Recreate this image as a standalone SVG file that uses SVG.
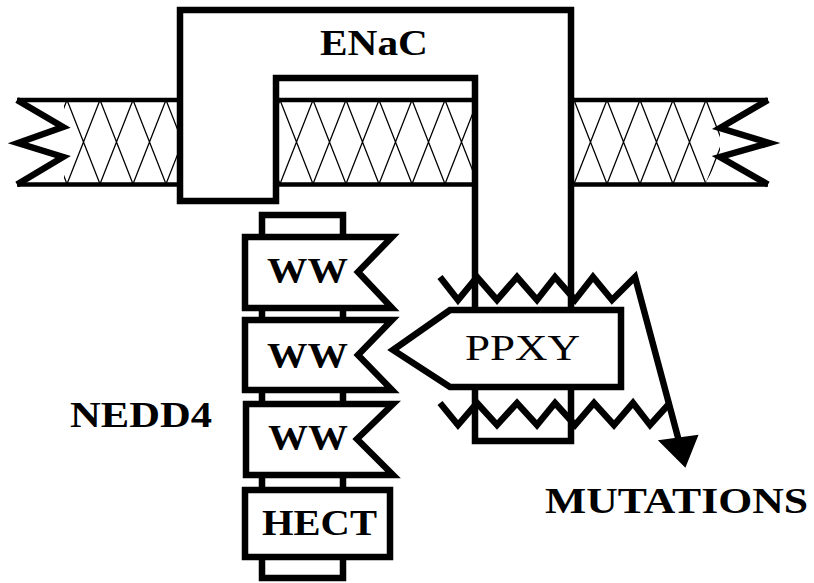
<svg xmlns="http://www.w3.org/2000/svg" width="814" height="583" viewBox="0 0 814 583">
<style>
.ln{fill:none;stroke:#000;stroke-width:4.5}
.zz{fill:none;stroke:#000;stroke-width:6.5;stroke-linejoin:miter;stroke-miterlimit:10}
.box{fill:#fff;stroke:#000;stroke-width:6.5;stroke-linejoin:miter;stroke-miterlimit:10}
.lbl{font-family:"Liberation Serif","Times New Roman",serif;font-weight:bold;font-size:35px;fill:#000}
.reg{font-family:"Liberation Serif","Times New Roman",serif;font-weight:normal;font-size:35px;fill:#000}
</style>
<defs>
<pattern id="hL" patternUnits="userSpaceOnUse" x="67" y="100" width="33" height="84">
<path d="M0,0 L33,84 M33,0 L0,84" stroke="#000" stroke-width="1.3" fill="none"/>
</pattern>
<pattern id="hM" patternUnits="userSpaceOnUse" x="280" y="100" width="33" height="84">
<path d="M0,0 L33,84 M33,0 L0,84" stroke="#000" stroke-width="1.3" fill="none"/>
</pattern>
<pattern id="hR" patternUnits="userSpaceOnUse" x="574" y="100" width="33" height="84">
<path d="M0,0 L33,84 M33,0 L0,84" stroke="#000" stroke-width="1.3" fill="none"/>
</pattern>
</defs>
<rect width="814" height="583" fill="#fff"/>
<g id="membrane">
<rect x="64" y="100" width="116" height="84" fill="url(#hL)"/>
<rect x="276" y="100" width="199" height="84" fill="url(#hM)"/>
<polygon points="571,100 727,100 720,128 720,157 705,184 571,184" fill="url(#hR)"/>
<path class="ln" d="M180,100 H17 M17,184.5 H180 M276,100 H475 M276,184.5 H475 M571,100 H768 M571,184.5 H768"/>
<polyline class="zz" points="17,100 63,127 18,143 63,157 17,184.5"/>
<polyline class="zz" points="768,100 720,128 769,143 720,157 768,184.5"/>
</g>
<g id="enac">
<path class="box" d="M180,10 H571 V441 H475 V78 H276 V201 H180 Z"/>
<text class="lbl" x="320" y="55" textLength="108" lengthAdjust="spacingAndGlyphs">ENaC</text>
</g>
<g id="nedd4">
<path class="box" d="M262,237 V215 H343 V237"/>
<path class="box" d="M262,308 V320 M343,308 V320 M262,390 V404 M343,390 V404 M262,475 V490 M343,475 V490"/>
<path class="box" d="M262,557 V578 H343 V557"/>
<g id="ww1">
<path class="box" d="M245,237 H392 L358,272 L392,308 H245 Z"/>
<text class="lbl" x="267" y="283" textLength="81" lengthAdjust="spacingAndGlyphs">WW</text>
</g>
<g id="ww2">
<path class="box" d="M245,320 H392 L358,355 L392,390 H245 Z"/>
<text class="lbl" x="267" y="368" textLength="81" lengthAdjust="spacingAndGlyphs">WW</text>
</g>
<g id="ww3">
<path class="box" d="M246,404 H393 L357,439 L393,475 H246 Z"/>
<text class="lbl" x="268" y="450" textLength="80" lengthAdjust="spacingAndGlyphs">WW</text>
</g>
<g id="hect">
<rect class="box" x="245" y="490" width="145" height="67"/>
<text class="lbl" x="262" y="535" textLength="115" lengthAdjust="spacingAndGlyphs">HECT</text>
</g>
<text class="lbl" x="70" y="427" textLength="142" lengthAdjust="spacingAndGlyphs">NEDD4</text>
</g>
<g id="ppxy">
<path class="box" d="M393,350 L450,310 H621 V387 H450 Z"/>
<text class="reg" x="465" y="360" textLength="115" lengthAdjust="spacingAndGlyphs">PPXY</text>
</g>
<g id="connectors">
<polyline class="zz" points="440,277 458,300 477,277 497,300 517,277 537,300 555,277 575,300 593,277 612,300 635,277 680,445"/>
<polyline class="zz" points="440,403 458,425 477,403 497,425 517,403 537,425 555,403 575,425 594,403 614,425 633,403 650,425 668,405"/>
<polygon points="660,441 697,436 685,466" fill="#000" stroke="#000" stroke-width="2" stroke-linejoin="miter"/>
</g>
<g id="mutations">
<text class="lbl" x="545" y="513" textLength="263" lengthAdjust="spacingAndGlyphs">MUTATIONS</text>
</g>
</svg>
